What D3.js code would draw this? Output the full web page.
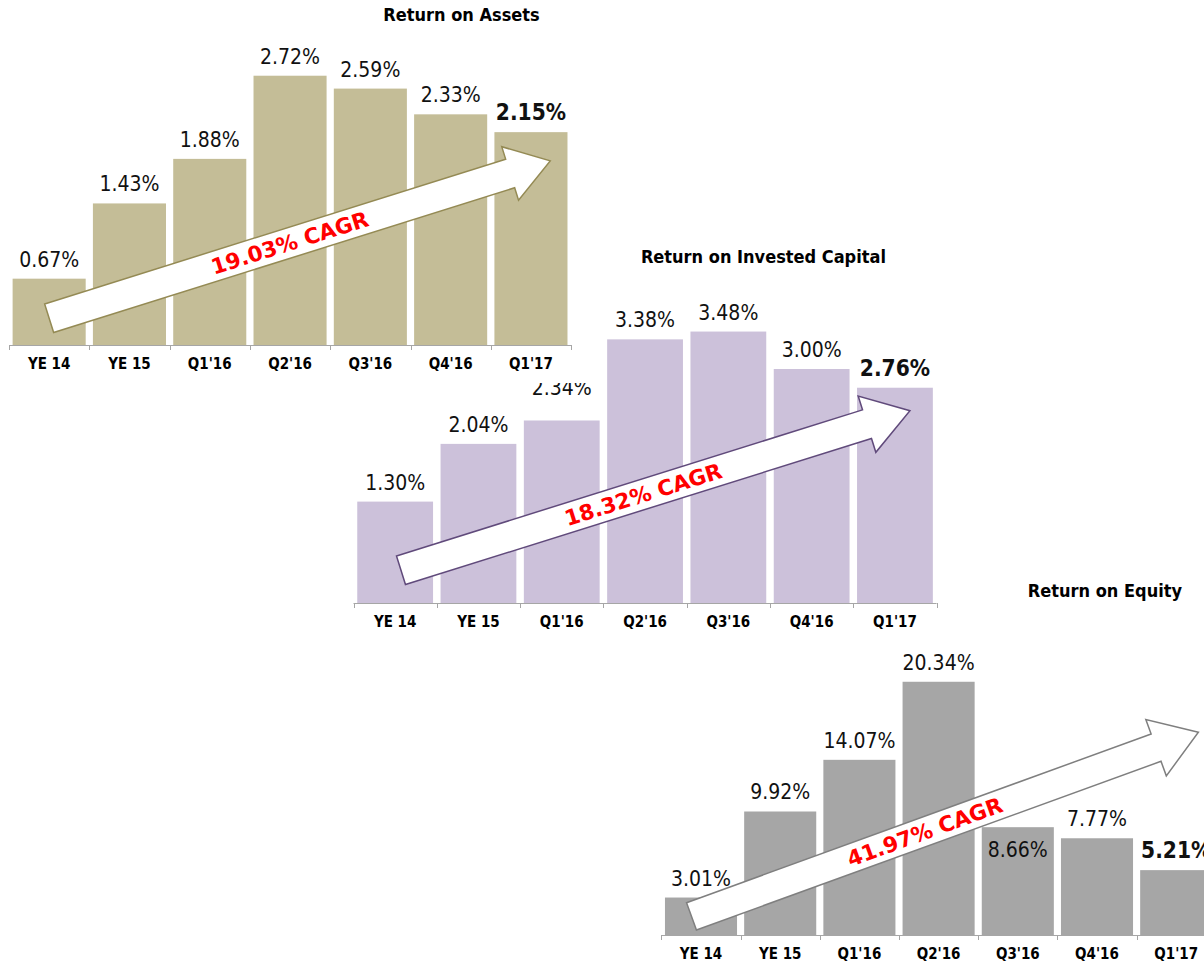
<!DOCTYPE html>
<html>
<head>
<meta charset="utf-8">
<script src="https://cdn.jsdelivr.net/npm/d3@7"></script>
<style>
  html, body { margin: 0; padding: 0; background: #ffffff; }
  svg { display: block; }
  .cond { font-family: "DejaVu Sans Condensed", "DejaVu Sans", sans-serif; font-stretch: condensed; }
</style>
</head>
<body>
<svg id="chart" width="1204" height="963"></svg>
<script>
// ---------- data ----------
const categories = ["YE 14", "YE 15", "Q1'16", "Q2'16", "Q3'16", "Q4'16", "Q1'17"];
const roaValues  = [0.67, 1.43, 1.88, 2.72, 2.59, 2.33, 2.15];
const roicValues = [1.30, 2.04, 2.34, 3.38, 3.48, 3.00, 2.76];
const roeValues  = [3.01, 9.92, 14.07, 20.34, 8.66, 7.77, 5.21];
const chartTitles = ["Return on Assets", "Return on Invested Capital", "Return on Equity"];
const cagrLabels  = ["19.03% CAGR", "18.32% CAGR", "41.97% CAGR"];
// arrow endpoints in (category index, value) units
const roaArrow  = [[0.00, 0.27], [6.24, 1.86]];
const roicArrow = [[0.07, 0.42], [6.18, 2.465]];
const roeArrow  = [[-0.12, 1.50], [6.28, 16.28]];

// ---------- layout / style ----------
const charts = [
  { values: roaValues, title: chartTitles[0], cagr: cagrLabels[0], arrow: roaArrow,
    x0: 9, step: 80.3, axisY: 345, yMax: 3, plotH: 297, titleFx: 0.805, titleY: 21,
    bar: "#c4bd97", stroke: "#948a54", shaft: 30, headW: 56, headL: 42, textT: 0.48,
    bg: [0, 0, 600, 383], labelShift: {}, inside: {} },
  { values: roicValues, title: chartTitles[1], cagr: cagrLabels[1], arrow: roicArrow,
    x0: 353.5, step: 83.3, axisY: 603, yMax: 4, plotH: 312, titleFx: 0.703, titleY: 263,
    bar: "#ccc1da", stroke: "#604a7b", shaft: 30, headW: 59, headL: 45, textT: 0.476,
    bg: null, labelShift: {2: -13}, inside: {} },
  { values: roeValues, title: chartTitles[2], cagr: cagrLabels[2], arrow: roeArrow,
    x0: 661.4, step: 79.2, axisY: 935, yMax: 24, plotH: 298.8, titleFx: 0.80, titleY: 597,
    bar: "#a6a6a6", stroke: "#7f7f7f", shaft: 29, headW: 60, headL: 45, textT: 0.46,
    bg: null, labelShift: {}, inside: {4: true} }
];

const svg = d3.select("#chart");

function drawChart(c) {
  const g = svg.append("g");
  const n = categories.length;
  const x = d3.scaleBand().domain(categories)
    .range([c.x0, c.x0 + n * c.step]).paddingInner(0.09).paddingOuter(0.045);
  const xi = d3.scaleLinear().domain([-0.5, n - 0.5]).range([c.x0, c.x0 + n * c.step]);
  const y = d3.scaleLinear().domain([0, c.yMax]).range([c.axisY, c.axisY - c.plotH]);

  if (c.bg) {
    g.append("rect").attr("x", c.bg[0]).attr("y", c.bg[1])
      .attr("width", c.bg[2]).attr("height", c.bg[3]).attr("fill", "#ffffff");
  }

  // title
  g.append("text").attr("class", "cond")
    .attr("x", c.x0 + c.titleFx * n * c.step).attr("y", c.titleY)
    .attr("text-anchor", "middle").attr("font-size", 18).attr("font-weight", "bold")
    .attr("fill", "#000").text(c.title);

  // bars
  g.selectAll("rect.bar").data(c.values).enter().append("rect").attr("class", "bar")
    .attr("x", (d, i) => x(categories[i]))
    .attr("y", d => y(d))
    .attr("width", x.bandwidth())
    .attr("height", d => y(0) - y(d))
    .attr("fill", c.bar);

  // axis line + boundary ticks
  g.append("line").attr("x1", xi(-0.5)).attr("x2", xi(n - 0.5))
    .attr("y1", c.axisY + 0.5).attr("y2", c.axisY + 0.5)
    .attr("stroke", "#a6a6a6").attr("stroke-width", 1);
  g.selectAll("line.tick").data(d3.range(n + 1)).enter().append("line").attr("class", "tick")
    .attr("x1", i => Math.round(xi(i - 0.5)) + 0.5).attr("x2", i => Math.round(xi(i - 0.5)) + 0.5)
    .attr("y1", c.axisY).attr("y2", c.axisY + 5)
    .attr("stroke", "#a6a6a6").attr("stroke-width", 1);

  // category labels
  g.selectAll("text.cat").data(categories).enter().append("text").attr("class", "cat cond")
    .attr("x", d => x(d) + x.bandwidth() / 2).attr("y", c.axisY + 24)
    .attr("text-anchor", "middle").attr("font-size", 15).attr("font-weight", "bold")
    .attr("fill", "#000").text(d => d);

  // value labels
  g.selectAll("text.val").data(c.values).enter().append("text").attr("class", "val cond")
    .attr("x", (d, i) => x(categories[i]) + x.bandwidth() / 2)
    .attr("y", (d, i) => c.inside[i] ? y(d) + 30 : y(d) - 12 + (c.labelShift[i] || 0))
    .attr("text-anchor", "middle")
    .attr("font-size", (d, i) => i === n - 1 ? 22.5 : 21)
    .attr("font-weight", (d, i) => i === n - 1 ? "bold" : "normal")
    .attr("fill", "#111").text(d => d.toFixed(2) + "%");

  // arrow
  const T = [xi(c.arrow[0][0]), y(c.arrow[0][1])];
  const P = [xi(c.arrow[1][0]), y(c.arrow[1][1])];
  const dx = P[0] - T[0], dy = P[1] - T[1];
  const L = Math.hypot(dx, dy);
  const u = [dx / L, dy / L];
  const nn = [-u[1], u[0]];
  const B = [P[0] - u[0] * c.headL, P[1] - u[1] * c.headL];
  const off = (p, k) => [p[0] + nn[0] * k, p[1] + nn[1] * k];
  const pts = [off(T, -c.shaft / 2), off(B, -c.shaft / 2), off(B, -c.headW / 2), P,
               off(B, c.headW / 2), off(B, c.shaft / 2), off(T, c.shaft / 2)];
  g.append("path").attr("d", d3.line()(pts) + "Z")
    .attr("fill", "#ffffff").attr("stroke", c.stroke).attr("stroke-width", 1.5)
    .attr("stroke-linejoin", "miter");

  const angle = Math.atan2(dy, dx) * 180 / Math.PI;
  const C = [T[0] + dx * c.textT, T[1] + dy * c.textT];
  g.append("text")
    .attr("transform", `translate(${C[0]},${C[1]}) rotate(${angle})`)
    .attr("text-anchor", "middle").attr("dy", "0.36em")
    .attr("font-family", "'DejaVu Sans', sans-serif")
    .attr("font-size", 21.5).attr("font-weight", "bold").attr("fill", "#ff0000")
    .text(c.cagr);
}

// draw back to front so the top chart's backdrop overlaps the middle one
drawChart(charts[2]);
drawChart(charts[1]);
drawChart(charts[0]);
</script>
</body>
</html>
